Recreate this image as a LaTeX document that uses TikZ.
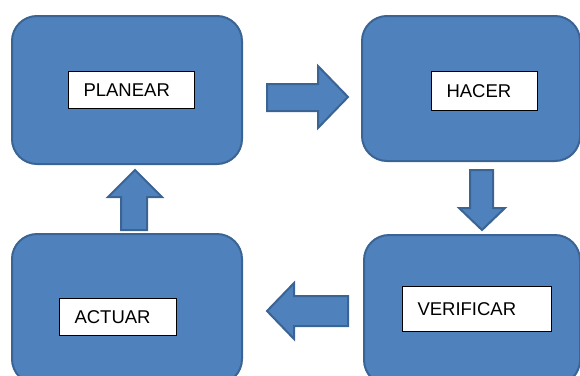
\documentclass[tikz,border=0pt]{standalone}
\usepackage{fontspec}
\setmainfont{Liberation Sans}
\definecolor{boxfill}{HTML}{4F81BD}
\definecolor{boxline}{HTML}{3A6494}
\begin{document}
\begin{tikzpicture}[x=1pt,y=-1pt,
  phase/.style={draw=boxline,fill=boxfill,line width=2pt,rounded corners=25pt,
    anchor=north west,inner sep=0pt},
  lbl/.style={draw=black,fill=white,line width=1pt,anchor=north west,inner ysep=0pt,
    inner xsep=15pt,align=left,font=\fontsize{18.5}{20}\selectfont},
  blockarrow/.style={draw=boxline,fill=boxfill,line width=2pt,line join=miter}]
\useasboundingbox (0,0) rectangle (580,375);
% phase boxes
\node[phase,minimum width=230pt,minimum height=148pt] (plan) at (11,15) {};
\node[phase,minimum width=218pt,minimum height=145pt] (hacer) at (361,15) {};
\node[phase,minimum width=230pt,minimum height=150pt] (actuar) at (11,233) {};
\node[phase,minimum width=216pt,minimum height=150pt] (verif) at (363,234) {};
% labels
\node[lbl,text width=96pt,minimum height=37pt] (lplan) at (68,71) {PLANEAR};
\node[lbl,text width=76pt,minimum height=39pt] (lhacer) at (431,71) {HACER};
\node[lbl,text width=87pt,minimum height=37pt] (lactuar) at (59,298) {ACTUAR};
\node[lbl,text width=119pt,minimum height=45pt] (lverif) at (402,286) {VERIFICAR};
% block arrows
\draw[blockarrow] (267,84) -- (318,84) -- (318,66) -- (348,97) -- (318,128) -- (318,111) -- (267,111) -- cycle;
\draw[blockarrow] (470,170) -- (493,170) -- (493,208) -- (505,208) -- (482,230) -- (459,208) -- (470,208) -- cycle;
\draw[blockarrow] (348,296) -- (294,296) -- (294,283) -- (267,311) -- (294,339) -- (294,326) -- (348,326) -- cycle;
\draw[blockarrow] (121,230) -- (121,197) -- (108,197) -- (135,170) -- (162,197) -- (147,197) -- (147,230) -- cycle;
\end{tikzpicture}
\end{document}
